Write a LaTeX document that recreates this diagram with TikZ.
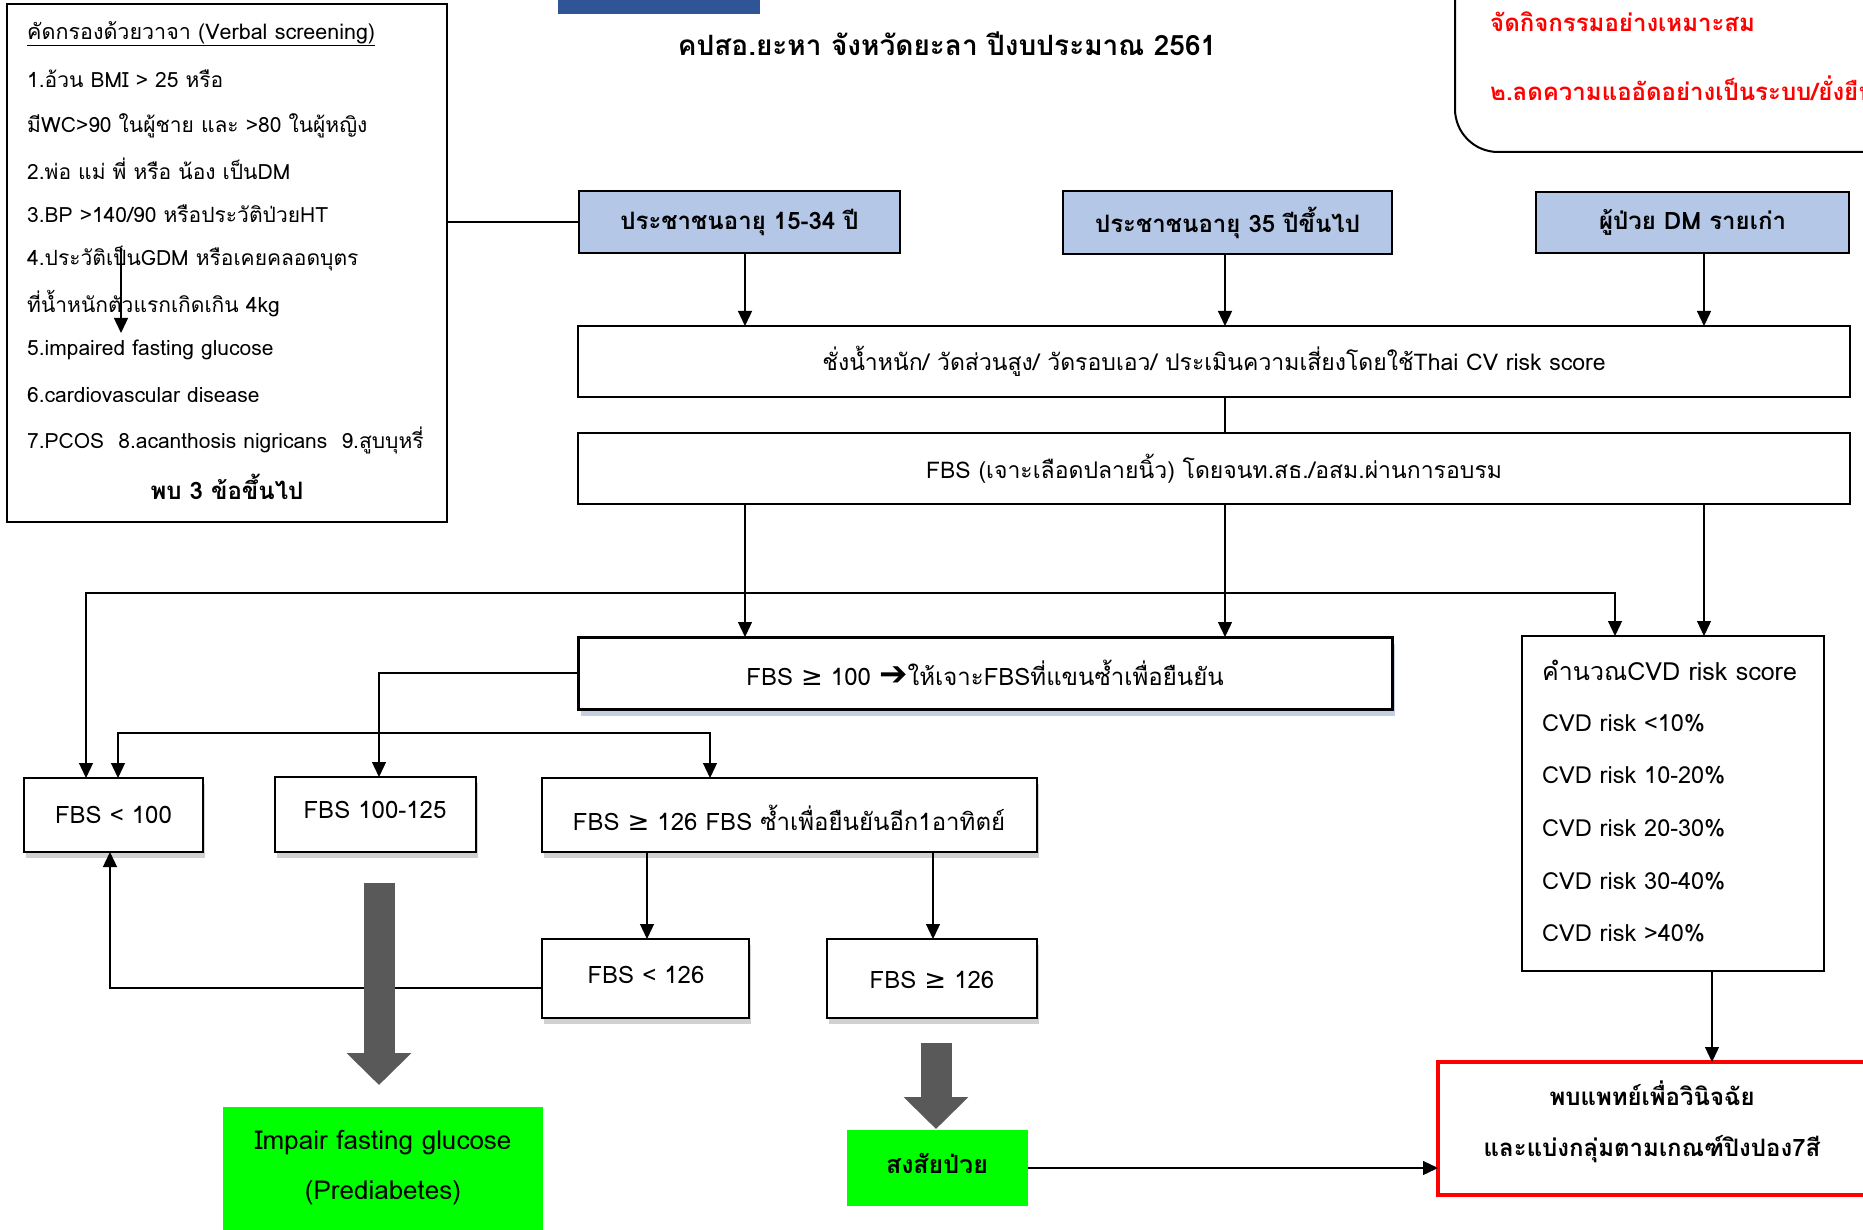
\documentclass[tikz,border=0pt]{standalone}
\usepackage{fontspec}
\setmainfont{Loma}[Script=Thai]
\newfontfamily\symf{DejaVu Sans}
\usetikzlibrary{arrows.meta,shadows}
\definecolor{boxblue}{HTML}{B4C7E7}
\definecolor{topblue}{HTML}{2F5597}
\definecolor{blockgray}{HTML}{595959}
\definecolor{ggreen}{HTML}{00FF00}
\definecolor{rred}{HTML}{FF0000}
\definecolor{shblue}{HTML}{9DB0CF}
\newcommand{\fsz}[1]{\fontsize{#1}{#1}\selectfont}
\newcommand{\mygeq}{{\symf\fsz{26}≥}}
\tikzset{
  box/.style={draw, line width=2pt, fill=white, inner sep=0pt, outer sep=0pt},
  sbox/.style={box, drop shadow={shadow xshift=2pt, shadow yshift=-6pt, fill=black, opacity=0.18}},
  bluebox/.style={box, fill=boxblue, line width=2.5pt, font=\bfseries\fsz{24}},
  widebox/.style={box, line width=2.5pt, font=\fsz{23}},
  fbox/.style={sbox, font=\fsz{24}},
  greenbox/.style={fill=ggreen, inner sep=0pt, outer sep=0pt},
  conn/.style={line width=1.3pt},
  arr/.style={conn, -{Triangle[width=14pt,length=15pt]}},
  blockarr/.style={line width=31pt, draw=blockgray, -{Triangle[width=63pt,length=32pt]}},
  lt/.style={inner sep=0pt, anchor=west, font=\fsz{21}},
  ct/.style={inner sep=0pt},
}
\begin{document}
\begin{tikzpicture}[x=1pt,y=-1pt]
\useasboundingbox (0,0) rectangle (1863,1230);

% top decorations
\node[fill=topblue, minimum width=202pt, minimum height=14pt, inner sep=0pt, anchor=north west] (topbar) at (558,0) {};
\node[ct, font=\bfseries\fsz{28}] (title) at (947,44) {คปสอ.ยะหา จังหวัดยะลา ปีงบประมาณ 2561};
\draw[line width=2pt, rounded corners=43pt] (1455,-30) -- (1455,152) -- (1900,152);
\node[lt, font=\bfseries\fsz{24}, text=rred] (red1) at (1490,22) {จัดกิจกรรมอย่างเหมาะสม};
\node[lt, font=\bfseries\fsz{24}, text=rred] (red2) at (1490,88) {๒.ลดความแออัดอย่างเป็นระบบ/ยั่งยืน};

% verbal screening box
\node[box, minimum width=440pt, minimum height=518pt] (verbal) at (227,263) {};
\node[lt, font=\fsz{21.5}] (v0) at (27,34) {\underline{คัดกรองด้วยวาจา (Verbal screening)}};
\node[lt] (v1) at (27,79) {1.อ้วน BMI > 25 หรือ};
\node[lt] (v2) at (27,126) {มีWC>90 ในผู้ชาย และ >80 ในผู้หญิง};
\node[lt] (v3) at (27,169) {2.พ่อ แม่ พี่ หรือ น้อง เป็นDM};
\node[lt] (v4) at (27,214) {3.BP >140/90 หรือประวัติป่วยHT};
\node[lt] (v5) at (27,259) {4.ประวัติเป็นGDM หรือเคยคลอดบุตร};
\node[lt] (v6) at (27,304) {ที่น้ำหนักตัวแรกเกิดเกิน 4kg};
\node[lt] (v7) at (27,350) {5.impaired fasting glucose};
\node[lt] (v8) at (27,395) {6.cardiovascular disease};
\node[lt] (v9) at (27,440) {7.PCOS\ \ 8.acanthosis nigricans\ \ 9.สูบบุหรี่};
\node[ct, font=\bfseries\fsz{24}] (v10) at (227,487) {พบ 3 ข้อขึ้นไป};
\coordinate (va) at (121,248);
\coordinate (vb) at (121,333);
\draw[arr] (va) -- (vb);

% population boxes
\node[bluebox, minimum width=321pt, minimum height=62pt] (B1) at (739.5,222) {ประชาชนอายุ 15-34 ปี};
\node[bluebox, minimum width=329pt, minimum height=63pt] (B2) at (1227.5,222.5) {ประชาชนอายุ 35 ปีขึ้นไป};
\node[bluebox, minimum width=313pt, minimum height=61pt] (B3) at (1692.5,222.5) {ผู้ป่วย DM รายเก่า};

\node[widebox, minimum width=1272pt, minimum height=71pt] (M1) at (1214,361.5) {ชั่งน้ำหนัก/ วัดส่วนสูง/ วัดรอบเอว/ ประเมินความเสี่ยงโดยใช้Thai CV risk score};
\node[widebox, minimum width=1272pt, minimum height=71pt] (M2) at (1214,468.5) {FBS (เจาะเลือดปลายนิ้ว) โดยจนท.สธ./อสม.ผ่านการอบรม};

\node[box, line width=3pt, font=\fsz{24}, minimum width=814pt, minimum height=72pt,
      drop shadow={shadow xshift=3pt, shadow yshift=-7pt, fill=shblue, opacity=0.6}] (F100) at (985,673)
      {FBS \mygeq\ 100 {\symf\bfseries\fsz{34}➔}ให้เจาะFBSที่แขนซ้ำเพื่อยืนยัน};

\node[box, minimum width=302pt, minimum height=335pt] (CVD) at (1673,803.5) {};
\node[lt, font=\fsz{25}] (c0) at (1542,670) {คำนวณCVD risk score};
\node[lt, font=\fsz{23.5}] (c1) at (1542,723) {CVD risk <10\%};
\node[lt, font=\fsz{23.5}] (c2) at (1542,775) {CVD risk 10-20\%};
\node[lt, font=\fsz{23.5}] (c3) at (1542,828) {CVD risk 20-30\%};
\node[lt, font=\fsz{23.5}] (c4) at (1542,881) {CVD risk 30-40\%};
\node[lt, font=\fsz{23.5}] (c5) at (1542,933) {CVD risk >40\%};

\node[fbox, minimum width=179pt, minimum height=74pt] (L100) at (113.5,815) {FBS < 100};
\node[fbox, minimum width=201pt, minimum height=75pt] (L125) at (375.5,814.5) {};
\node[ct, font=\fsz{24}] (L125t) at (375,810) {FBS 100-125};
\node[fbox, minimum width=495pt, minimum height=74pt] (L126) at (789.5,815) {};
\node[ct, font=\fsz{24}] (L126t) at (789,818) {FBS \mygeq\ 126 FBS ซ้ำเพื่อยืนยันอีก1อาทิตย์};
\node[fbox, minimum width=207pt, minimum height=79pt] (S126) at (645.5,978.5) {};
\node[ct, font=\fsz{24}] (S126t) at (646,975) {FBS < 126};
\node[fbox, minimum width=210pt, minimum height=79pt] (G126) at (932,978.5) {};
\node[ct, font=\fsz{24}] (G126t) at (932,980) {FBS \mygeq\ 126};

\node[greenbox, minimum width=320pt, minimum height=133pt] (Pre) at (383,1173.5) {};
\node[ct, font=\fsz{26}] (Pre1) at (383,1143) {Impair fasting glucose};
\node[ct, font=\fsz{26}] (Pre2) at (383,1193) {(Prediabetes)};
\node[greenbox, minimum width=181pt, minimum height=76pt] (Sus) at (937.5,1168) {};
\node[ct, font=\bfseries\fsz{25}] (Sust) at (937,1163) {สงสัยป่วย};

\node[box, draw=rred, line width=4.5pt, minimum width=432pt, minimum height=133pt] (Red) at (1654,1128.5) {};
\node[ct, font=\bfseries\fsz{24}] (Red1) at (1652,1093) {พบแพทย์เพื่อวินิจฉัย};
\node[ct, font=\bfseries\fsz{24}] (Red2) at (1652,1149) {และแบ่งกลุ่มตามเกณฑ์ปิงปอง7สี};

% connectors
\draw[conn] (verbal.east |- B1.west) -- (B1.west);
\draw[arr] (B1.south -| 745,0) -- (M1.north -| 745,0);
\draw[arr] (B2.south -| 1225,0) -- (M1.north -| 1225,0);
\draw[arr] (B3.south -| 1704,0) -- (M1.north -| 1704,0);
\draw[conn] (M1.south -| 1225,0) -- (M2.north -| 1225,0);
\draw[arr] (M2.south -| 745,0) -- (F100.north -| 745,0);
\draw[arr] (M2.south -| 1225,0) -- (F100.north -| 1225,0);
\draw[arr] (M2.south -| 1704,0) -- (CVD.north -| 1704,0);
\coordinate (j0) at (1225,593);
\draw[arr] (j0) -| (L100.north -| 86,0);
\draw[arr] (j0) -| (CVD.north -| 1615,0);
\coordinate (j1) at (379,733);
\draw[arr] (F100.west) -| (L125.north -| 379,0);
\draw[arr] (j1) -| (L100.north -| 118,0);
\draw[arr] (j1) -| (L126.north -| 710,0);
\draw[arr] (L126.south -| 647,0) -- (S126.north -| 647,0);
\draw[arr] (L126.south -| 933,0) -- (G126.north -| 933,0);
\draw[arr] (S126.west |- 0,988) -| (L100.south -| 110,0);
\coordinate (a1s) at (379,883);
\coordinate (a1e) at (379,1085);
\draw[blockarr] (a1s) -- (a1e);
\coordinate (a2s) at (936,1043);
\coordinate (a2e) at (936,1129);
\draw[blockarr] (a2s) -- (a2e);
\draw[arr] (Sus.east) -- (Sus.east -| Red.west);
\draw[arr] (CVD.south -| 1712,0) -- (Red.north -| 1712,0);
\end{tikzpicture}
\end{document}
